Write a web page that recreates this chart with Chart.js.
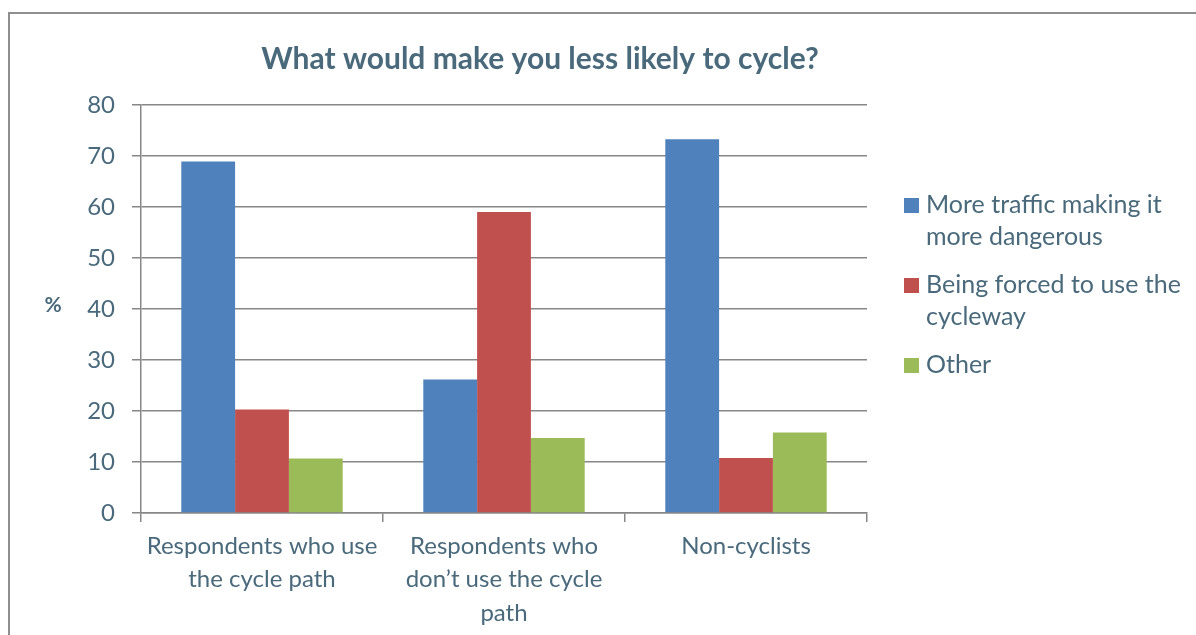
<!DOCTYPE html>
<html>
<head>
<meta charset="utf-8">
<title>What would make you less likely to cycle?</title>
<script src="https://cdn.jsdelivr.net/npm/chart.js@4.4.1/dist/chart.umd.min.js"></script>
<style>
  html, body { margin: 0; padding: 0; background: #fff; }
  #wrap { width: 1196px; height: 635px; position: relative; }
</style>
</head>
<body>
<div id="wrap"><canvas id="cycleChart" width="1196" height="635"></canvas></div>
<script>
// survey groups (x axis) and answer shares in %
const groups = [
  ["Respondents who use", "the cycle path"],
  ["Respondents who", "don\u2019t use the cycle", "path"],
  "Non-cyclists"
];
const seriesNames = [
  "More traffic making it more dangerous",
  "Being forced to use the cycleway",
  "Other"
];
const legendLines = [
  ["More traffic making it", "more dangerous"],
  ["Being forced to use the", "cycleway"],
  ["Other"]
];
const moreTraffic = [68.9, 26.2, 73.3];
const forcedCycleway = [20.3, 59.0, 10.8];
const other = [10.7, 14.7, 15.8];
const yMin = 0, yMax = 80, yStep = 10;

const titleText = "What would make you less likely to cycle?";
const yAxisLabel = "%";

const textColor = "#4a6a7c";
const lineColor = "#878787";
const fontFamily = "Lato, 'Open Sans', sans-serif";

// frame, title, "%" label and the wrapped legend on the right
const decorations = {
  id: "decorations",
  afterDraw(chart) {
    const ctx = chart.ctx;
    const area = chart.chartArea;
    ctx.save();

    ctx.strokeStyle = "#8f8f8f";
    ctx.lineWidth = 2;
    ctx.strokeRect(9, 13, 1400, 800);

    ctx.fillStyle = textColor;
    ctx.font = "bold 30px " + fontFamily;
    ctx.textAlign = "center";
    ctx.textBaseline = "alphabetic";
    ctx.fillText(titleText, 540, 69);

    ctx.font = "bold 21px " + fontFamily;
    ctx.fillText(yAxisLabel, 53, 312);

    ctx.font = "25px " + fontFamily;
    ctx.textAlign = "left";
    ctx.textBaseline = "middle";
    const sqX = area.right + 37;
    let y = 205;
    chart.data.datasets.forEach((ds, i) => {
      ctx.fillStyle = ds.backgroundColor;
      ctx.fillRect(sqX, y - 7, 15, 15);
      ctx.fillStyle = textColor;
      legendLines[i].forEach((line, j) => {
        ctx.fillText(line, sqX + 22, y + j * 32);
      });
      y += legendLines[i].length * 32 + 16;
    });
    ctx.restore();
  }
};

const ctx = document.getElementById("cycleChart");
const cycleChart = new Chart(ctx, {
  type: "bar",
  data: {
    labels: groups,
    datasets: [
      { label: seriesNames[0], data: moreTraffic, backgroundColor: "#4f81bd" },
      { label: seriesNames[1], data: forcedCycleway, backgroundColor: "#c0504d" },
      { label: seriesNames[2], data: other, backgroundColor: "#9bbb59" }
    ]
  },
  options: {
    responsive: false,
    animation: false,
    devicePixelRatio: 1,
    layout: { padding: { top: 105, right: 329, bottom: 0, left: 0 } },
    datasets: {
      bar: { barPercentage: 1, categoryPercentage: 0.667, borderWidth: 0 }
    },
    plugins: {
      legend: { display: false },
      title: { display: false },
      tooltip: { enabled: false }
    },
    scales: {
      x: {
        afterFit(scale) { scale.height = 122; },
        grid: {
          offset: true,
          drawOnChartArea: false,
          drawTicks: true,
          tickLength: 9,
          color: lineColor,
          lineWidth: 1.5
        },
        border: { display: true, color: lineColor, width: 1.5 },
        ticks: {
          color: textColor,
          font: { family: fontFamily, size: 24, lineHeight: 1.38 },
          maxRotation: 0,
          autoSkip: false,
          padding: 8
        }
      },
      y: {
        min: yMin,
        max: yMax,
        afterFit(scale) { scale.width = 141; },
        grid: {
          color: lineColor,
          lineWidth: 1.5,
          drawTicks: true,
          tickLength: 9
        },
        border: { display: true, color: lineColor, width: 1.5 },
        ticks: {
          stepSize: yStep,
          color: textColor,
          font: { family: fontFamily, size: 24 },
          padding: 17
        }
      }
    }
  },
  plugins: [decorations]
});
</script>
</body>
</html>
